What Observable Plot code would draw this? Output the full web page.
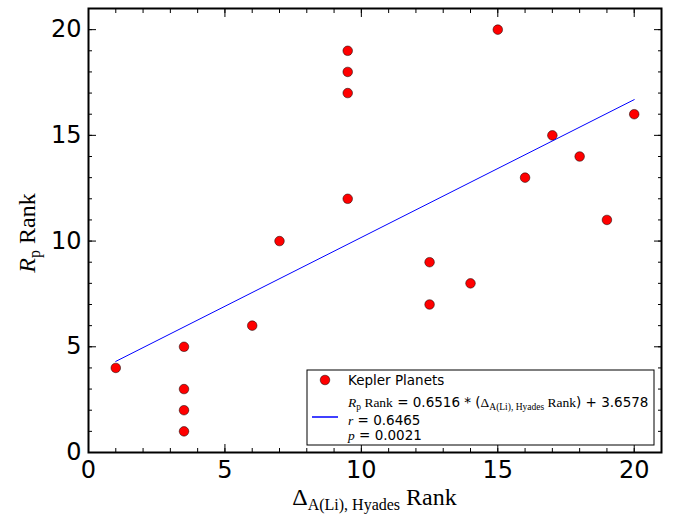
<!DOCTYPE html>
<html><head><meta charset="utf-8">
<script src="https://cdn.jsdelivr.net/npm/d3@7"></script>
<script src="https://cdn.jsdelivr.net/npm/@observablehq/plot@0.6"></script>
<style>body{margin:0;background:#fff}</style>
</head><body><div id="chart"></div>
<script>
// Data
const xRank  = [1, 3.5, 3.5, 3.5, 3.5, 6, 7, 9.5, 9.5, 9.5, 9.5, 12.5, 12.5, 14, 15, 16, 17, 18, 19, 20];
const rpRank = [4, 5, 3, 2, 1, 6, 10, 19, 18, 17, 12, 9, 7, 8, 20, 13, 15, 14, 11, 16];
const majorTicks = [0, 5, 10, 15, 20];
const minorTicks = [0, 1, 2, 3, 4, 5, 6, 7, 8, 9, 10, 11, 12, 13, 14, 15, 16, 17, 18, 19, 20, 21];
const slope = 0.6516, intercept = 3.6578, rValue = 0.6465, pValue = 0.0021;
const seriesLabel = "Kepler Planets";

const points = xRank.map((x, i) => ({x, y: rpRank[i]}));
const fit = d3.extent(xRank).map(x => ({x, y: slope * x + intercept}));

const serif = "'Liberation Serif', 'DejaVu Serif', serif";
const sans = "'DejaVu Sans', sans-serif";

const tickAxes = [];
for (const [ticks, size] of [[minorTicks, -4], [majorTicks, -8]]) {
  tickAxes.push(
    Plot.axisX(ticks, {anchor: "bottom", tickSize: size, fill: "none", label: null}),
    Plot.axisX(ticks, {anchor: "top", tickSize: size, fill: "none", label: null}),
    Plot.axisY(ticks, {anchor: "left", tickSize: size, fill: "none", label: null}),
    Plot.axisY(ticks, {anchor: "right", tickSize: size, fill: "none", label: null})
  );
}

const plot = Plot.plot({
  width: 685, height: 514,
  marginLeft: 88, marginRight: 24, marginTop: 8, marginBottom: 62,
  style: {fontFamily: sans, background: "white", color: "black", overflow: "visible"},
  x: {domain: [0, 21]},
  y: {domain: [0, 21]},
  marks: [
    Plot.dot(points, {x: "x", y: "y", r: 4.8, fill: "#ff0000", stroke: "black", strokeWidth: 0.5}),
    Plot.line(fit, {x: "x", y: "y", stroke: "#0000ff", strokeWidth: 1}),
    ...tickAxes,
    Plot.axisX(majorTicks, {anchor: "bottom", tickSize: 0, tickPadding: 8, fontSize: 24, label: null}),
    Plot.axisY(majorTicks, {anchor: "left", tickSize: 0, tickPadding: 7, fontSize: 24, label: null}),
    Plot.frame({stroke: "black", strokeWidth: 2})
  ]
});
document.getElementById("chart").appendChild(plot);

const svg = d3.select(plot);

// x label
const xl = svg.append("text").attr("x", 374.5).attr("y", 505).attr("text-anchor", "middle")
  .attr("font-family", serif).attr("font-size", 24).attr("fill", "black");
xl.append("tspan").text("Δ");
xl.append("tspan").attr("font-size", 16).attr("dy", 5).text("A(Li), Hyades");
xl.append("tspan").attr("dy", -5).text(" Rank");

// y label
const yl = svg.append("text").attr("transform", "translate(35,233) rotate(-90)").attr("text-anchor", "middle")
  .attr("font-family", serif).attr("font-size", 24).attr("fill", "black");
yl.append("tspan").attr("font-style", "italic").text("R");
yl.append("tspan").attr("font-size", 16).attr("dy", 5).text("p");
yl.append("tspan").attr("dy", -5).text(" Rank");

// legend
const fs = 13.5, fsSub = 9.5;
const lg = svg.append("g").attr("text-anchor", "start");
lg.append("rect").attr("x", 307).attr("y", 370).attr("width", 347).attr("height", 75)
  .attr("fill", "white").attr("stroke", "black").attr("stroke-width", 1);
lg.append("circle").attr("cx", 325).attr("cy", 380).attr("r", 4.8)
  .attr("fill", "#ff0000").attr("stroke", "black").attr("stroke-width", 0.5);
lg.append("text").attr("x", 348).attr("y", 385).attr("font-family", sans).attr("font-size", fs)
  .attr("text-anchor", "start").attr("fill", "black").text(seriesLabel);
lg.append("line").attr("x1", 312).attr("x2", 338).attr("y1", 417).attr("y2", 417)
  .attr("stroke", "#0000ff").attr("stroke-width", 1.5);

const t1 = lg.append("text").attr("x", 348).attr("y", 407).attr("text-anchor", "start").attr("font-family", sans).attr("font-size", fs).attr("fill", "black");
t1.append("tspan").attr("font-family", serif).attr("font-style", "italic").text("R");
t1.append("tspan").attr("font-family", serif).attr("font-size", fsSub).attr("dy", 2.5).text("p");
t1.append("tspan").attr("font-family", serif).attr("dy", -2.5).text(" Rank");
t1.append("tspan").text(` = ${slope.toFixed(4)} * (`);
t1.append("tspan").attr("font-family", serif).text("Δ");
t1.append("tspan").attr("font-family", serif).attr("font-size", fsSub).attr("dy", 2.5).text("A(Li), Hyades");
t1.append("tspan").attr("font-family", serif).attr("dy", -2.5).text(" Rank");
t1.append("tspan").text(`) + ${intercept.toFixed(4)}`);

const t2 = lg.append("text").attr("x", 348).attr("y", 425).attr("text-anchor", "start").attr("font-family", sans).attr("font-size", fs).attr("fill", "black");
t2.append("tspan").attr("font-family", serif).attr("font-style", "italic").text("r");
t2.append("tspan").text(` = ${rValue.toFixed(4)}`);

const t3 = lg.append("text").attr("x", 348).attr("y", 440).attr("text-anchor", "start").attr("font-family", sans).attr("font-size", fs).attr("fill", "black");
t3.append("tspan").attr("font-family", serif).attr("font-style", "italic").text("p");
t3.append("tspan").text(` = ${pValue.toFixed(4)}`);
</script>
</body></html>
